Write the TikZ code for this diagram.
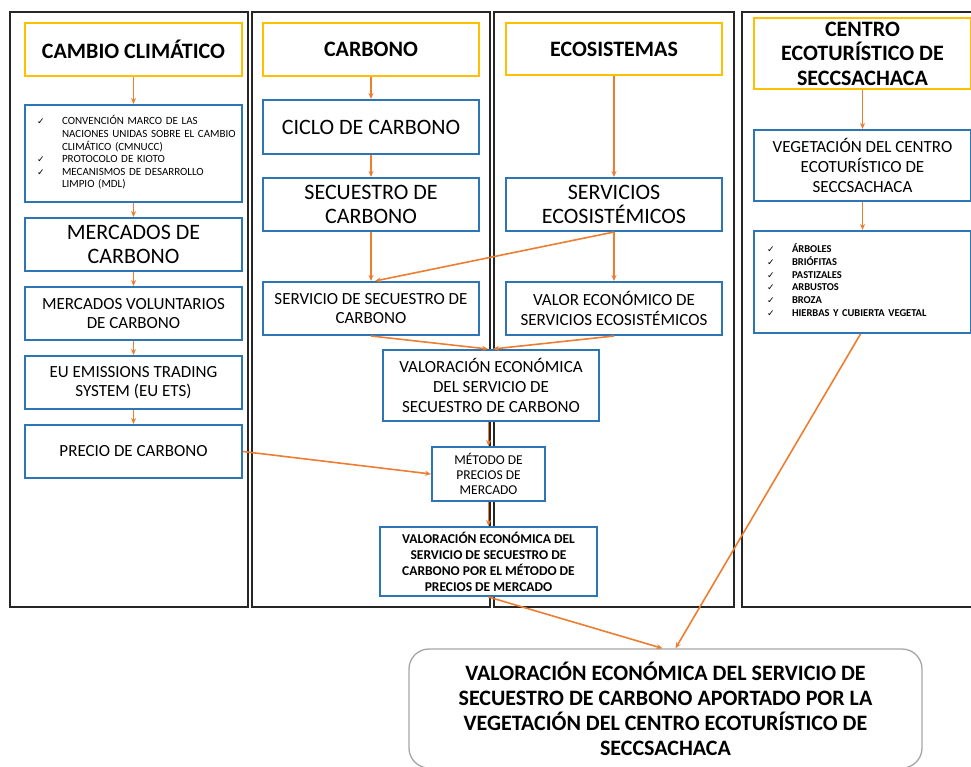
\documentclass[tikz,border=0pt]{standalone}
\usepackage{fontspec}
\setmainfont{Carlito}
\newfontfamily\symfont{DejaVu Sans}
\usetikzlibrary{positioning,arrows.meta}
\definecolor{naranja}{HTML}{ED7D31}
\definecolor{azul}{HTML}{2E75B6}
\definecolor{amarillo}{HTML}{FFC000}
\definecolor{gris}{HTML}{A6A6A6}
\newcommand{\tam}[2]{\fontsize{#1}{#2}\selectfont}
\newcommand{\visto}{{\symfont\tam{9}{9}✓}}

\begin{document}
\begin{tikzpicture}[x=1pt,y=-1pt,
		col/.style={draw=black!85, line width=1.8pt},
		tema/.style={draw=amarillo, line width=2pt, fill=white, minimum width=217pt, align=center, inner sep=2pt, font=\bfseries\tam{22}{24}},
		caja/.style={draw=azul, line width=2pt, fill=white, minimum width=217pt, align=center, inner sep=2pt},
		flecha/.style={draw=naranja, line width=1.6pt, -{Stealth[length=6pt,width=5pt]}}]
		\useasboundingbox (0,0) rectangle (971,767);
		\draw[col] (10,12) rectangle (248,607);
		\draw[col] (252,12) rectangle (490,607);
		\draw[col] (494,12) rectangle (734,607);
		\draw[col] (742,12) rectangle (980,607);
		\node[tema, minimum height=53pt] (cambio) at (133.5,49.5) {CAMBIO CLIMÁTICO};
		\node[caja, minimum height=97pt, text width=193pt, inner xsep=12pt, align=left, font=\tam{11}{12.6}] (conv) at (133.5,153.5) {\begin{tabular}{@{}p{25pt}@{}l@{}}\visto & CONVENCIÓN MARCO DE LAS\\ & NACIONES UNIDAS SOBRE EL CAMBIO\\ & CLIMÁTICO (CMNUCC)\\ \visto & PROTOCOLO DE KIOTO\\ \visto & MECANISMOS DE DESARROLLO\\ & LIMPIO (MDL)\end{tabular}};
		\node[caja, minimum height=53pt, font=\tam{22}{24.5}] (mercados) at (133.5,244.5) {MERCADOS DE\\CARBONO};
		\node[caja, minimum height=53pt, font=\tam{17}{19.5}] (voluntarios) at (133.5,313.5) {MERCADOS VOLUNTARIOS\\DE CARBONO};
		\node[caja, minimum height=53pt, font=\tam{17}{19.5}] (ets) at (133.5,382.5) {EU EMISSIONS TRADING\\SYSTEM (EU ETS)};
		\node[caja, minimum height=53pt, font=\tam{17}{19.5}] (precio) at (133.5,451.5) {PRECIO DE CARBONO};
		\node[tema, minimum height=53pt, minimum width=216pt] (carbono) at (371,49.5) {CARBONO};
		\node[caja, minimum height=54pt, minimum width=216pt, font=\tam{22}{24.5}] (ciclo) at (371,127) {CICLO DE CARBONO};
		\node[caja, minimum height=53pt, minimum width=216pt, font=\tam{22}{24.5}] (secuestro) at (371,204.5) {SECUESTRO DE\\CARBONO};
		\node[caja, minimum height=53pt, minimum width=216pt, font=\tam{17}{19.5}] (servicio) at (371,308.5) {SERVICIO DE SECUESTRO DE\\CARBONO};
		\node[tema, minimum height=52pt, minimum width=216pt] (ecosist) at (614,49) {ECOSISTEMAS};
		\node[caja, minimum height=53pt, minimum width=216pt, font=\tam{22}{24.5}] (sereco) at (614,204.5) {SERVICIOS\\ECOSISTÉMICOS};
		\node[caja, minimum height=53pt, minimum width=216pt, font=\tam{17}{19.5}] (valor) at (614,308.5) {VALOR ECONÓMICO DE\\SERVICIOS ECOSISTÉMICOS};
		\node[tema, minimum height=71pt, font=\bfseries\tam{22}{24.5}] (centro) at (862.5,53.5) {CENTRO\\ECOTURÍSTICO DE\\SECCSACHACA};
		\node[caja, minimum height=71pt, font=\tam{17}{20}] (vegetacion) at (862.5,165.5) {VEGETACIÓN DEL CENTRO\\ECOTURÍSTICO DE\\SECCSACHACA};
		\node[caja, minimum height=102pt, text width=191pt, inner xsep=13pt, align=left, font=\bfseries\tam{10.5}{12.7}] (lista) at (862.5,282) {\begin{tabular}{@{}p{25pt}@{}l@{}}\visto & ÁRBOLES\\ \visto & BRIÓFITAS\\ \visto & PASTIZALES\\ \visto & ARBUSTOS\\ \visto & BROZA\\ \visto & HIERBAS Y CUBIERTA VEGETAL\end{tabular}};
		\node[caja, minimum height=71pt, minimum width=216pt, font=\tam{17}{20}] (valserv) at (491,385.5) {VALORACIÓN ECONÓMICA\\DEL SERVICIO DE\\SECUESTRO DE CARBONO};
		\node[caja, minimum height=54pt, minimum width=113pt, font=\tam{13.5}{15}] (metodo) at (488.5,474) {MÉTODO DE\\PRECIOS DE\\MERCADO};
		\node[caja, minimum height=69pt, font=\bfseries\tam{13.5}{16}] (valmet) at (488.5,561.5) {VALORACIÓN ECONÓMICA DEL\\SERVICIO DE SECUESTRO DE\\CARBONO POR EL MÉTODO DE\\PRECIOS DE MERCADO};
		\node[draw=gris, line width=1.3pt, rounded corners=20pt, fill=white, minimum width=513pt, minimum height=119pt, align=center, font=\bfseries\tam{22}{25}] (final) at (665.5,708.5) {VALORACIÓN ECONÓMICA DEL SERVICIO DE\\SECUESTRO DE CARBONO APORTADO POR LA\\VEGETACIÓN DEL CENTRO ECOTURÍSTICO DE\\SECCSACHACA};
		\draw[flecha] (cambio) -- (conv);
		\draw[flecha] (conv) -- (mercados);
		\draw[flecha] (mercados) -- (voluntarios);
		\draw[flecha] (voluntarios) -- (ets);
		\draw[flecha] (ets) -- (precio);
		\draw[flecha] (carbono) -- (ciclo);
		\draw[flecha] (ciclo) -- (secuestro);
		\draw[flecha] (secuestro) -- (servicio);
		\draw[flecha] (ecosist) -- (sereco);
		\draw[flecha] (sereco) -- (valor);
		\draw[flecha] (sereco.south) -- ([xshift=4pt]servicio.north);
		\draw[flecha] (servicio.south) -- ([xshift=-3pt]valserv.north);
		\draw[flecha] (valor.south) -- ([xshift=2pt]valserv.north);
		\draw[flecha] (valserv.south -| metodo) -- (metodo);
		\draw[flecha] (precio.east) -- (metodo.west);
		\draw[flecha] (metodo) -- (valmet);
		\draw[flecha] (valmet.south) -- ([xshift=-3pt]final.north);
		\draw[flecha] ([xshift=-2pt]lista.south) -- ([xshift=10pt]final.north);
		\draw[flecha] (centro) -- (vegetacion);
		\draw[flecha] (vegetacion) -- (lista);
\end{tikzpicture}
\end{document}
